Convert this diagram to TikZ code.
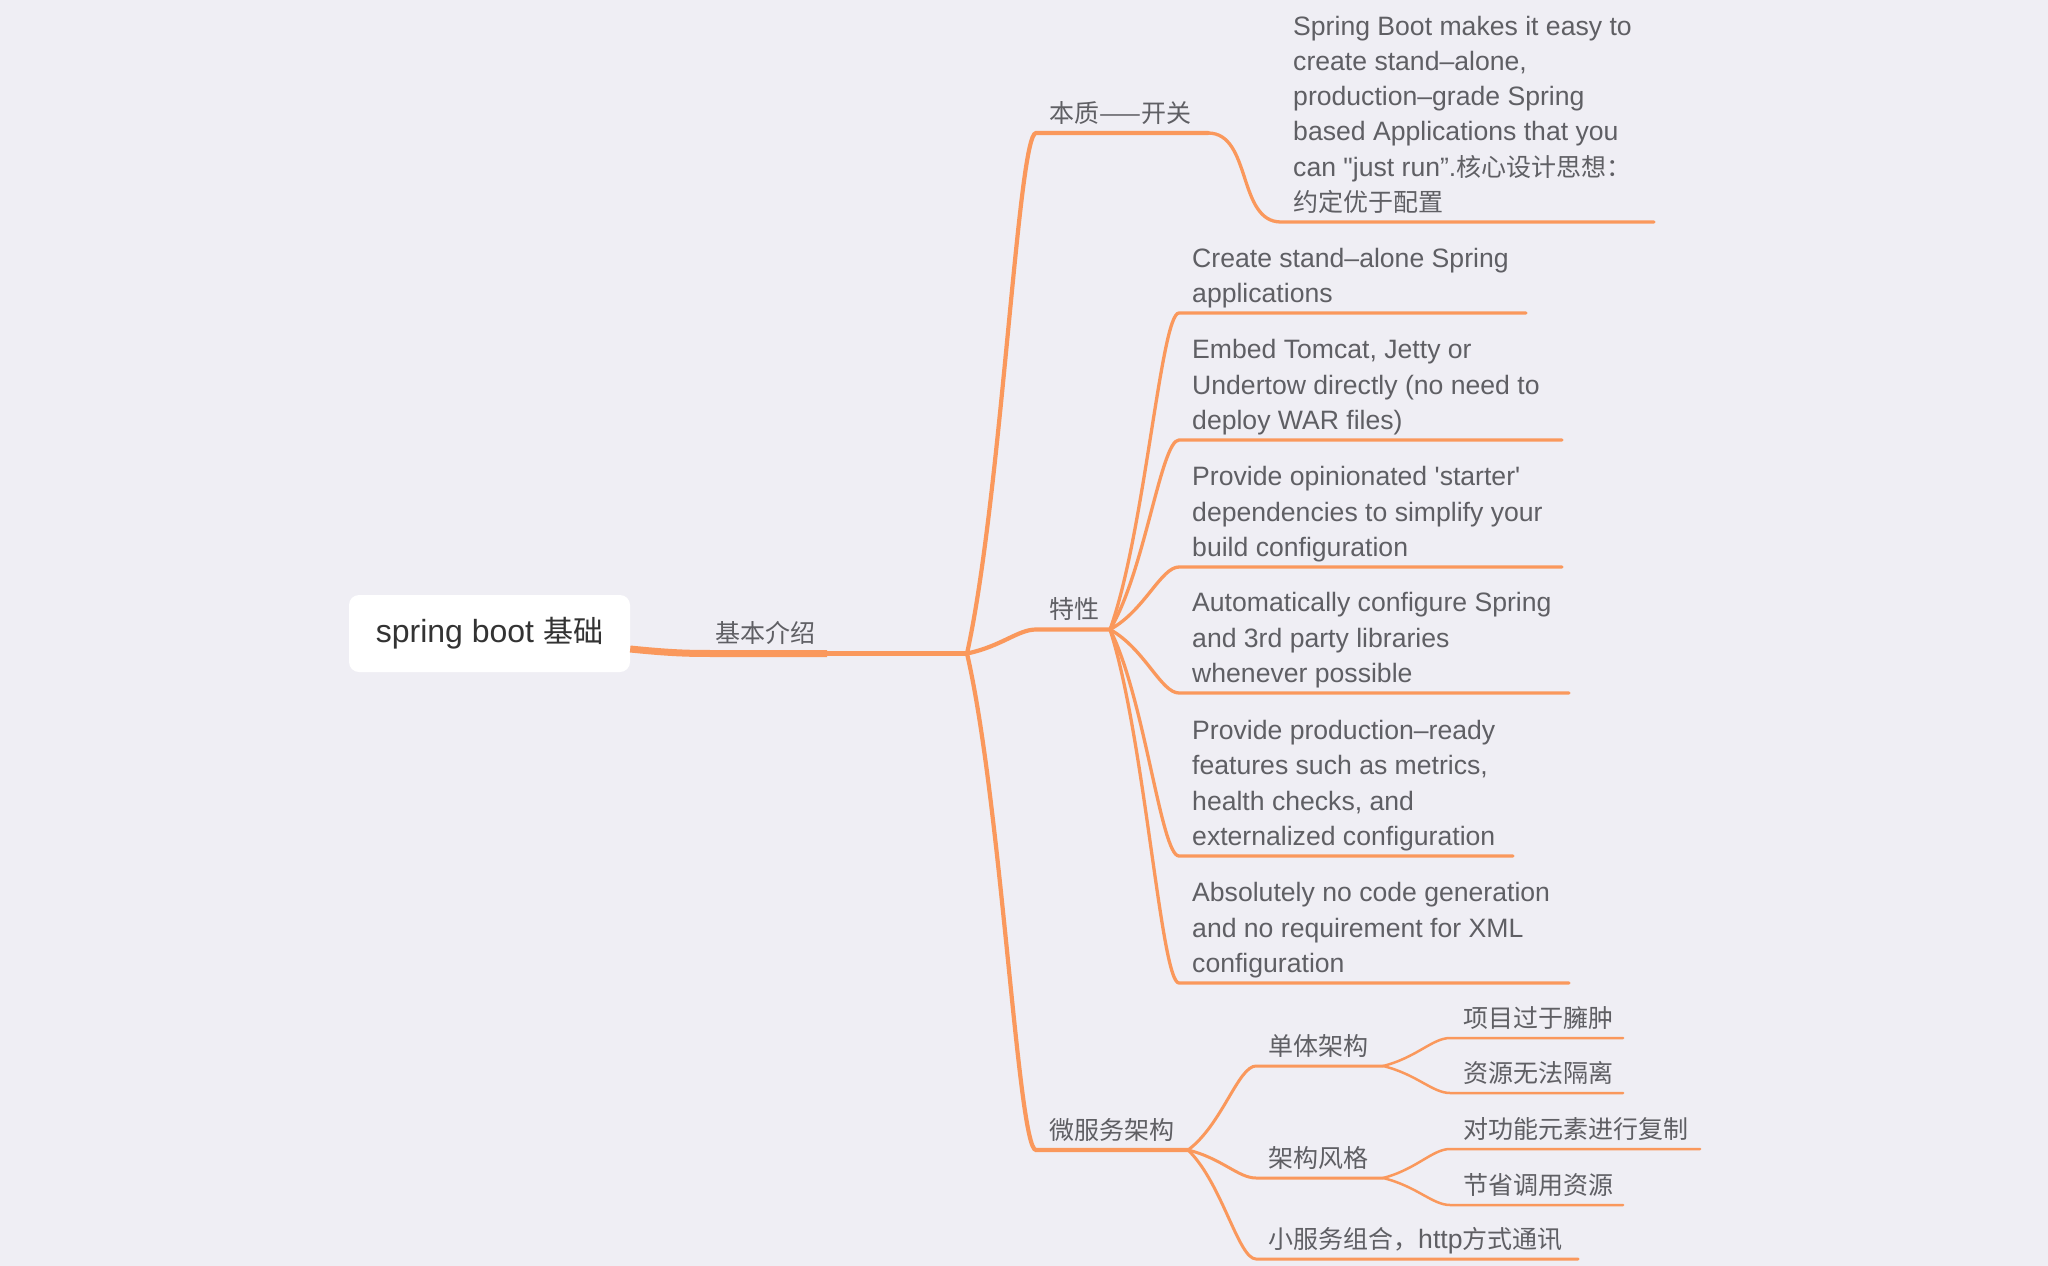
\documentclass[tikz,border=0pt]{standalone}
\usepackage{fontspec}
\setmainfont[Ligatures=TeXOff]{Liberation Sans}
\newfontfamily\cjk[Scale=0.94]{Noto Sans CJK SC}
\usetikzlibrary{calc}
\definecolor{bgc}{RGB}{239,238,244}
\definecolor{orn}{RGB}{250,152,92}
\definecolor{txt}{RGB}{95,95,100}
\definecolor{roottxt}{RGB}{51,51,51}
\newcommand\lblfont{\fontsize{26.6}{35.2}\selectfont}
\tikzset{
  lbl/.style={anchor=south west, inner sep=0pt, text=txt, font=\lblfont, align=left},
  rootbox/.style={fill=white, rounded corners=10pt, minimum width=281pt, minimum height=77pt, inner sep=0pt, text=roottxt, font=\fontsize{32}{38}\selectfont},
  br2/.style={draw=orn, line width=4.2pt, line cap=round},
  br3/.style={draw=orn, line width=3.3pt, line cap=round},
  br3b/.style={draw=orn, line width=3pt, line cap=round},
  br4/.style={draw=orn, line width=2.5pt, line cap=round},
  curve/.style={to path={let \p1=(\tikztostart), \p2=(\tikztotarget) in
     .. controls ({\x1+0.5*(\x2-\x1)},{\y1+0.3*(\y2-\y1)}) and ({\x2-0.26*(\x2-\x1)},\y2) .. (\tikztotarget)}},
  scurve/.style={to path={let \p1=(\tikztostart), \p2=(\tikztotarget) in
     .. controls ({\x1+0.6*(\x2-\x1)},\y1) and ({\x2-0.6*(\x2-\x1)},\y2) .. (\tikztotarget)}}
}
\begin{document}
\begin{tikzpicture}[x=1pt,y=-1pt]
\useasboundingbox (0,0) rectangle (2048,1266);
\fill[bgc] (0,0) rectangle (2048,1266);

% root
\node[rootbox] (root) at (489.5,633.5) {spring boot {\cjk 基础}};

% 基本介绍
\coordinate (kbE) at (827,653.5);
\coordinate (hubA) at (967,653.5);
\node[lbl] (kb) at (715,653.5) {\cjk 基本介绍\strut};
\draw[orn, line width=7pt] ($(root.east)+(0,15.5)$) .. controls (675,653.5) and (690,653.5) .. (720,653.5) -- (kbE);
\draw[orn, line width=5pt] (kbE) -- (hubA);

% 本质——开关
\coordinate (bzS) at (1036,133);
\coordinate (bzE) at (1208,133);
\node[lbl] (bz) at (1049,133) {\cjk 本质——开关\strut};
\draw[br2] (hubA) to[curve] (bzS) -- (bzE);
\coordinate (bzcS) at (1281,222);
\coordinate (bzcE) at (1654,222);
\node[lbl] (bzc) at (1293,222) {Spring Boot makes it easy to\\create stand–alone,\\production–grade Spring\\based Applications that you\\can "just run”.{\cjk 核心设计思想：}\\{\cjk 约定优于配置}\strut};
\draw[br3] (bzE) to[scurve] (bzcS) -- (bzcE);

% 特性
\coordinate (txS) at (1036,629.5);
\coordinate (txE) at (1110,629.5);
\node[lbl] (tx) at (1049,629.5) {\cjk 特性\strut};
\draw[br2] (hubA) to[curve] (txS) -- (txE);

\coordinate (c1S) at (1179,313); \coordinate (c1E) at (1526,313);
\coordinate (c2S) at (1179,440); \coordinate (c2E) at (1562,440);
\coordinate (c3S) at (1179,567); \coordinate (c3E) at (1562,567);
\coordinate (c4S) at (1179,693); \coordinate (c4E) at (1569,693);
\coordinate (c5S) at (1179,856); \coordinate (c5E) at (1513,856);
\coordinate (c6S) at (1179,983); \coordinate (c6E) at (1569,983);
\node[lbl] (c1) at (1192,313) {Create stand–alone Spring\\applications\strut};
\node[lbl] (c2) at (1192,440) {Embed Tomcat, Jetty or\\Undertow directly (no need to\\deploy WAR files)\strut};
\node[lbl] (c3) at (1192,567) {Provide opinionated 'starter'\\dependencies to simplify your\\build configuration\strut};
\node[lbl] (c4) at (1192,693) {Automatically configure Spring\\and 3rd party libraries\\whenever possible\strut};
\node[lbl] (c5) at (1192,856) {Provide production–ready\\features such as metrics,\\health checks, and\\externalized configuration\strut};
\node[lbl] (c6) at (1192,983) {Absolutely no code generation\\and no requirement for XML\\configuration\strut};
\foreach \c in {c1,c2,c3,c4,c5,c6}
  \draw[br3] (txE) to[curve] (\c S) -- (\c E);

% 微服务架构
\coordinate (wfS) at (1036,1150);
\coordinate (wfE) at (1188,1150);
\node[lbl] (wf) at (1049,1150) {\cjk 微服务架构\strut};
\draw[br2] (hubA) to[curve] (wfS) -- (wfE);

\coordinate (dtS) at (1256,1066); \coordinate (dtE) at (1383,1066);
\coordinate (fgS) at (1256,1178); \coordinate (fgE) at (1383,1178);
\coordinate (xfS) at (1256,1259); \coordinate (xfE) at (1578,1259);
\node[lbl] (dt) at (1268,1066) {\cjk 单体架构\strut};
\node[lbl] (fg) at (1268,1178) {\cjk 架构风格\strut};
\node[lbl] (xf) at (1268,1259) {{\cjk 小服务组合，}http{\cjk 方式通讯}\strut};
\draw[br3b] (wfE) to[curve] (dtS) -- (dtE);
\draw[br3b] (wfE) to[curve] (fgS) -- (fgE);
\draw[br3b] (wfE) to[curve] (xfS) -- (xfE);

\coordinate (d1S) at (1450,1038); \coordinate (d1E) at (1623,1038);
\coordinate (d2S) at (1450,1093); \coordinate (d2E) at (1623,1093);
\coordinate (f1S) at (1450,1149); \coordinate (f1E) at (1700,1149);
\coordinate (f2S) at (1450,1205); \coordinate (f2E) at (1623,1205);
\node[lbl] (d1) at (1463,1038) {\cjk 项目过于臃肿\strut};
\node[lbl] (d2) at (1463,1093) {\cjk 资源无法隔离\strut};
\node[lbl] (f1) at (1463,1149) {\cjk 对功能元素进行复制\strut};
\node[lbl] (f2) at (1463,1205) {\cjk 节省调用资源\strut};
\draw[br4] (dtE) to[curve] (d1S) -- (d1E);
\draw[br4] (dtE) to[curve] (d2S) -- (d2E);
\draw[br4] (fgE) to[curve] (f1S) -- (f1E);
\draw[br4] (fgE) to[curve] (f2S) -- (f2E);
\end{tikzpicture}
\end{document}
